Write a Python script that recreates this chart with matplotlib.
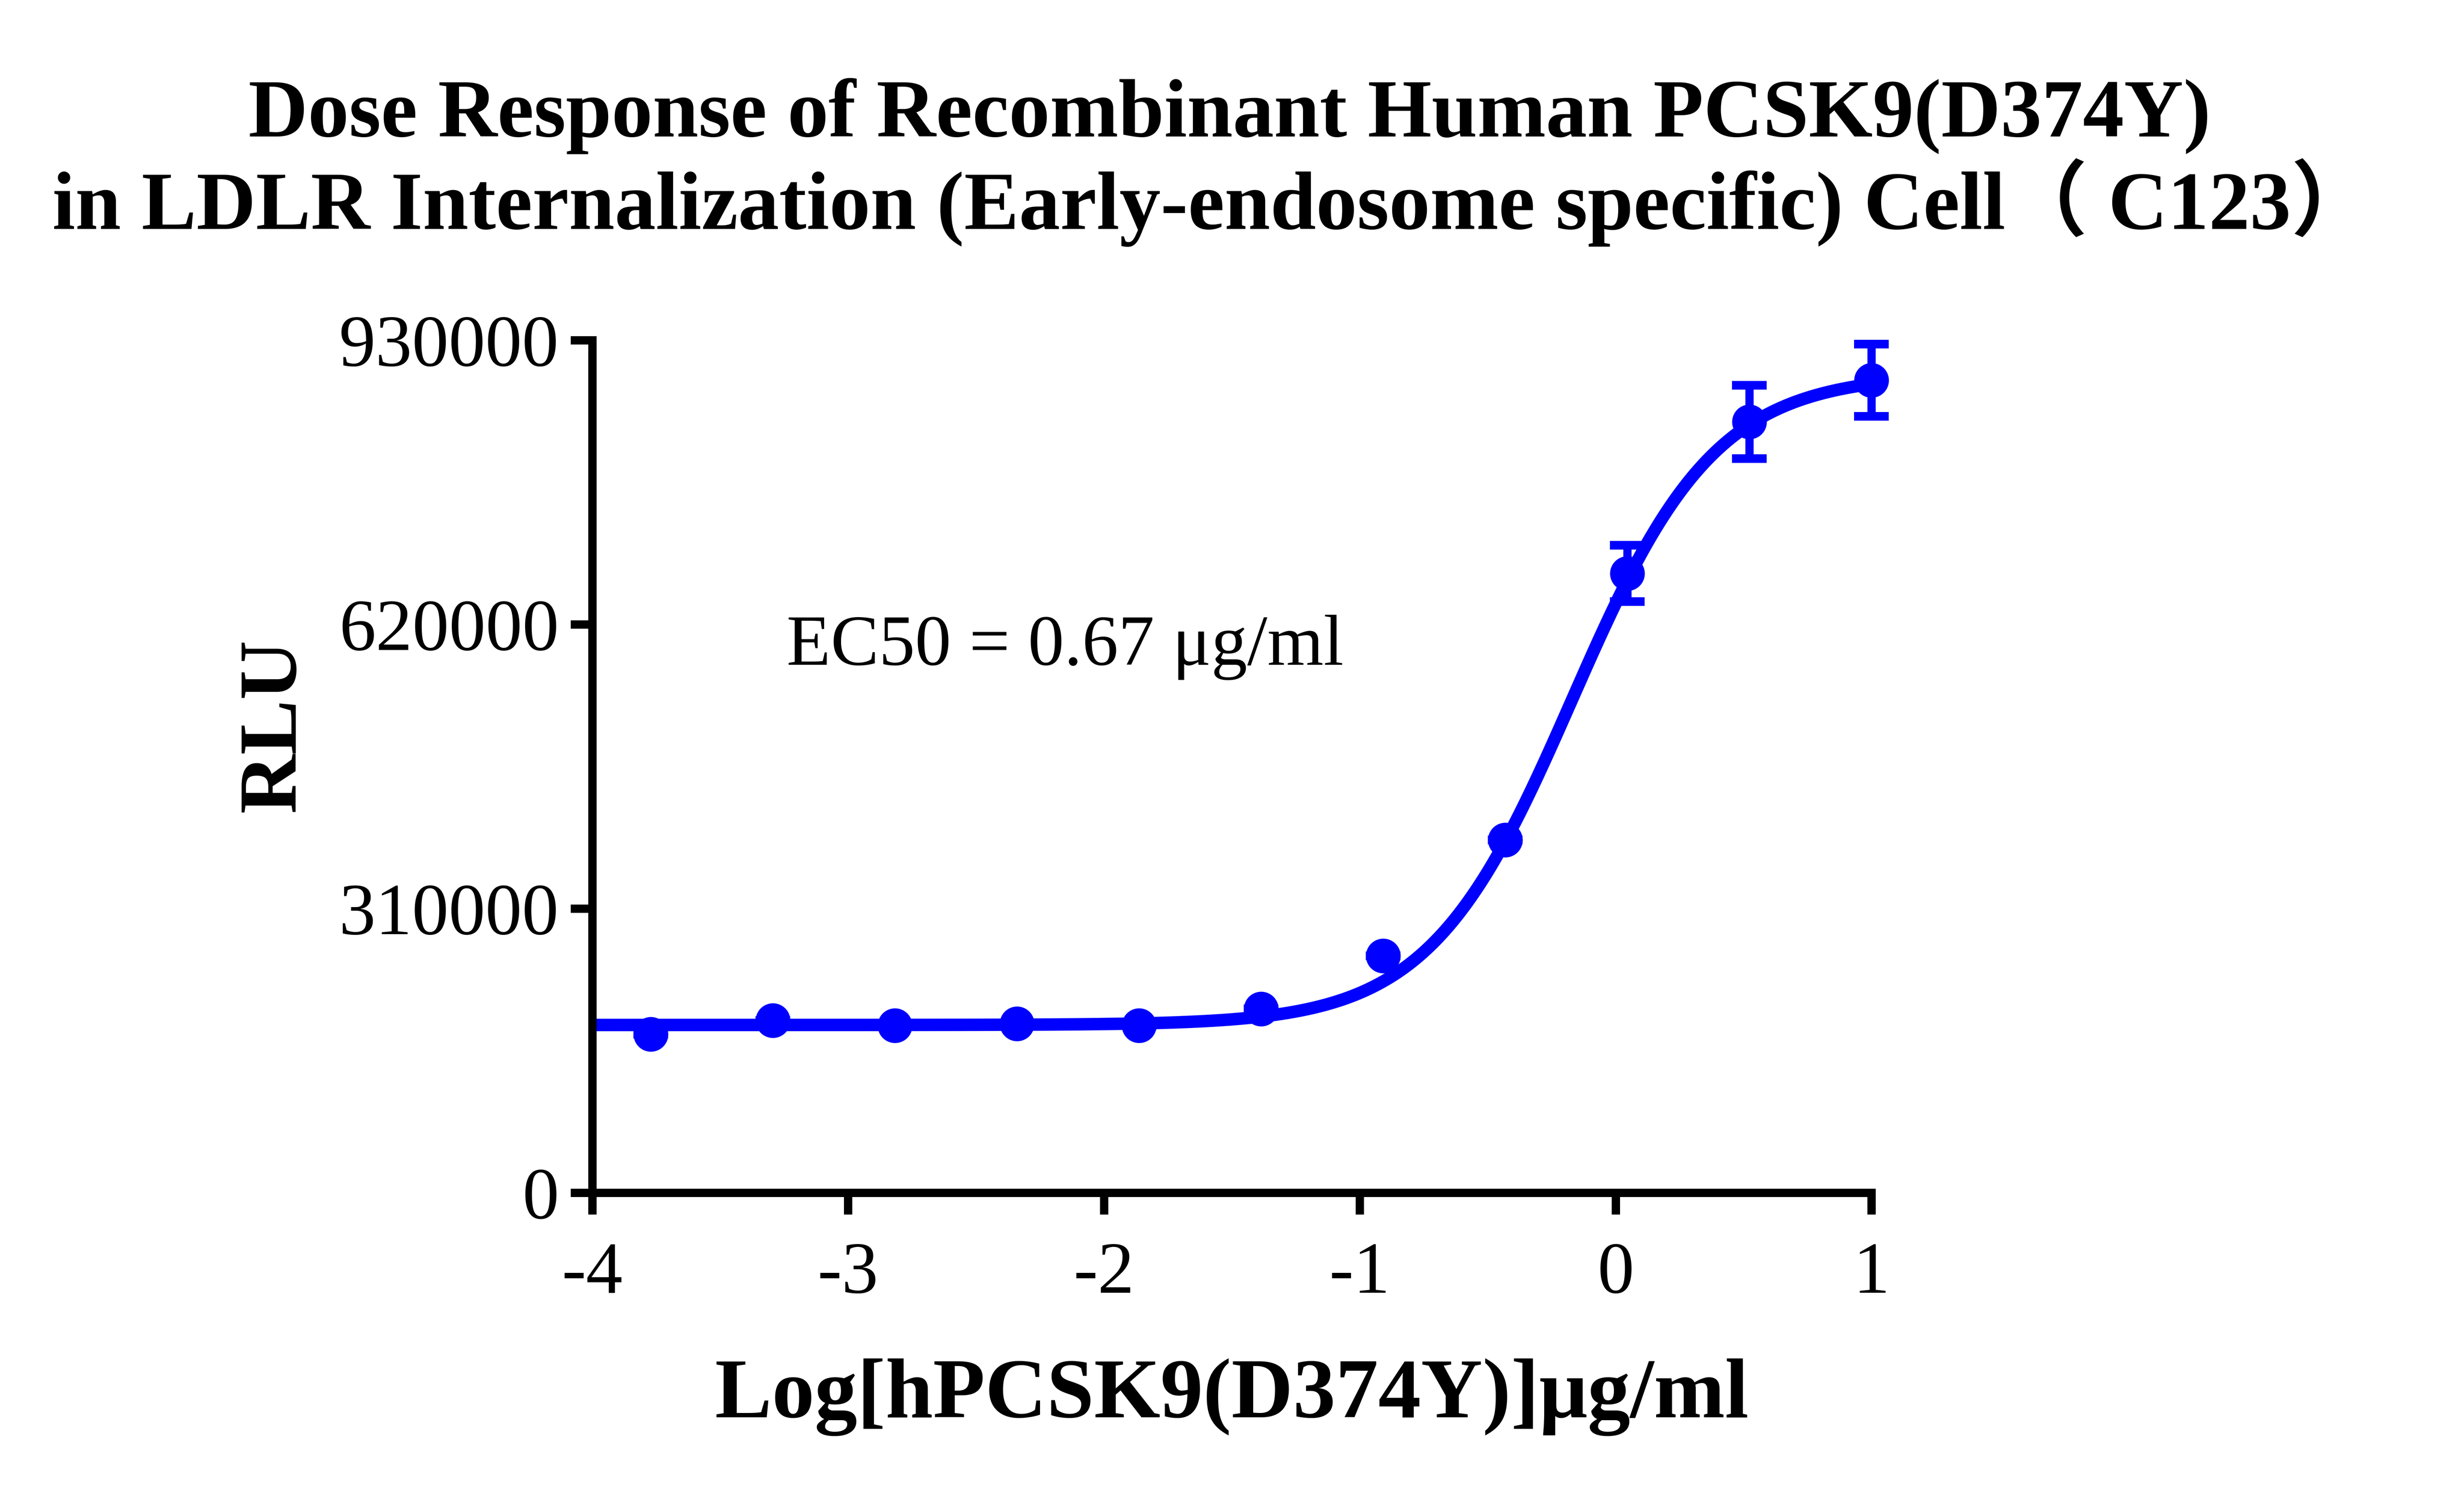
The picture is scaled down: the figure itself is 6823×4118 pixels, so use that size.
import numpy as np
import matplotlib
matplotlib.use("Agg")
import matplotlib.pyplot as plt

plt.rcParams['font.family'] = ['Liberation Serif', 'Noto Sans CJK SC', 'DejaVu Sans']
plt.rcParams['axes.unicode_minus'] = False

# log10 of concentration (ug/ml), 3-fold dilutions from 10 ug/ml
log_conc = [-3.771, -3.294, -2.817, -2.340, -1.863, -1.385, -0.908, -0.431, 0.046, 0.523, 1.0]
rlu = [173000, 188000, 182500, 184500, 182500, 200500, 258500, 385000, 675500, 841000, 886500]
rlu_err = [0, 0, 0, 0, 0, 0, 0, 0, 30700, 40000, 39400]

# 4PL fit parameters
fit_bottom = 183000
fit_top = 893000
fit_logec50 = -0.17
fit_hill = 1.55

yticks = [0, 310000, 620000, 930000]
xticks = [-4, -3, -2, -1, 0, 1]

title1 = "Dose Response of Recombinant Human PCSK9(D374Y)"
title2 = "in LDLR Internalization (Early-endosome specific) Cell\uff08 C123\uff09"
xlabel = "Log[hPCSK9(D374Y)]\u03bcg/ml"
ylabel = "RLU"
ec50_text = "EC50 = 0.67 \u03bcg/ml"

blue = "#0000FF"

fig = plt.figure(figsize=(17.06, 10.295), dpi=400)
ax = fig.add_axes([0.2403, 0.1979, 0.5191, 0.5733])

xs = np.linspace(-4, 1, 400)
curve = fit_bottom + (fit_top - fit_bottom) / (1 + 10 ** ((fit_logec50 - xs) * fit_hill))
ax.plot(xs, curve, color=blue, lw=6.2, zorder=2, solid_capstyle='butt', clip_on=False)

eb = ax.errorbar(log_conc, rlu, yerr=rlu_err, fmt='none', ecolor=blue,
                 elinewidth=4.1, capsize=8.6, capthick=4.3, zorder=3)
for art in eb.lines[1] + eb.lines[2]:
    art.set_clip_on(False)
ax.plot(log_conc, rlu, 'o', color=blue, ms=17.3, mew=0, zorder=4, clip_on=False)

ax.set_xlim(-4, 1)
ax.set_ylim(0, 930000)
ax.set_xticks(xticks)
ax.set_xticklabels([str(t) for t in xticks])
ax.set_yticks(yticks)
ax.set_yticklabels([str(t) for t in yticks])

for s in ['top', 'right']:
    ax.spines[s].set_visible(False)
for s in ['left', 'bottom']:
    ax.spines[s].set_linewidth(4.14)
    ax.spines[s].set_capstyle('projecting')

ax.tick_params(axis='both', direction='out', length=10.8, width=4.14,
               labelsize=36.5, colors='black')
ax.tick_params(axis='x', pad=13.5)
ax.tick_params(axis='y', pad=5.8)

ax.set_xlabel(xlabel, fontsize=42.5, fontweight='bold', va='baseline')
ax.xaxis.set_label_coords(0.5, -0.2634)
ax.set_ylabel(ylabel, fontsize=41, fontweight='bold', va='baseline',
              ha='center', rotation_mode='anchor')
ax.yaxis.set_label_coords(-0.2326, 0.548)

ax.text(-3.2405, 575900, ec50_text, fontsize=36, ha='left', va='baseline')

fig.text(0.499, 0.9082, title1, fontsize=41, fontweight='bold', ha='center', va='baseline')
fig.text(0.4921, 0.8458, title2, fontsize=41, fontweight='bold', ha='center', va='baseline')

fig.savefig("out.png", dpi=400)
